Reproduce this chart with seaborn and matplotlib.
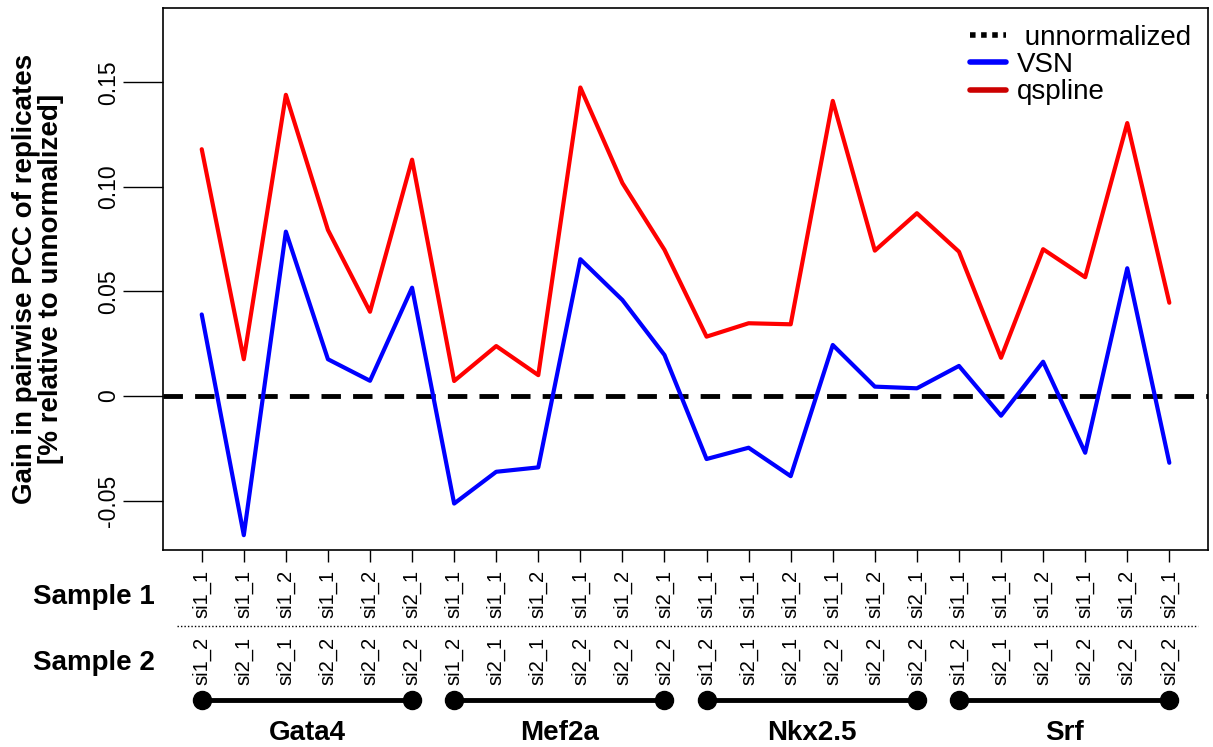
import numpy as np
import pandas as pd
import matplotlib
matplotlib.use("Agg")
import matplotlib.pyplot as plt
from matplotlib.lines import Line2D
import seaborn as sns

# --- data ---
groups = ["Gata4", "Mef2a", "Nkx2.5", "Srf"]
sample1 = ["si1_1", "si1_1", "si1_2", "si1_1", "si1_2", "si2_1"] * 4
sample2 = ["si1_2", "si2_1", "si2_1", "si2_2", "si2_2", "si2_2"] * 4
vsn = [0.039, -0.0665, 0.0786, 0.0176, 0.0073, 0.0518,
       -0.0514, -0.0362, -0.0341, 0.0654, 0.0459, 0.0196,
       -0.0301, -0.0247, -0.0383, 0.0244, 0.0045, 0.0037,
       0.0144, -0.0094, 0.0164, -0.0271, 0.0611, -0.0319]
qspline = [0.118, 0.0176, 0.144, 0.0794, 0.0403, 0.113,
           0.0072, 0.0239, 0.010, 0.1475, 0.1018, 0.0699,
           0.0284, 0.0348, 0.0343, 0.1411, 0.0695, 0.0874,
           0.069, 0.0183, 0.0702, 0.0568, 0.1305, 0.0446]
yticks = [-0.05, 0, 0.05, 0.10, 0.15]
ytick_labels = ["-0.05", "0", "0.05", "0.10", "0.15"]

pos = np.arange(1, len(vsn) + 1)
df = pd.DataFrame({
    "pos": np.concatenate([pos, pos]),
    "gain": vsn + qspline,
    "method": ["VSN"] * len(vsn) + ["qspline"] * len(qspline),
})

sns.set_style("white")
plt.rcParams["font.family"] = ["Liberation Sans", "DejaVu Sans"]
plt.rcParams.update({"text.color": "black", "axes.labelcolor": "black",
                     "xtick.color": "black", "ytick.color": "black"})

fig = plt.figure(figsize=(12.13, 7.47), dpi=100)
ax = fig.add_axes([0.1344, 0.2637, 0.8615, 0.7256])

# zero reference line
ax.axhline(0, color="black", lw=3.5, dashes=(4, 2.5), zorder=1)
sns.lineplot(data=df, x="pos", y="gain", hue="method",
             palette={"VSN": "#0000ff", "qspline": "#ff0000"},
             linewidth=3, legend=False, ax=ax, zorder=2)

ax.set_xlim(0.08, 24.92)
ax.set_ylim(-0.0736, 0.1855)
for s in ax.spines.values():
    s.set_color("black")
    s.set_linewidth(1.2)

# y axis
ax.set_yticks(yticks)
ax.set_yticklabels(ytick_labels, rotation=90, va="center", fontsize=16.5)
ax.tick_params(axis="y", direction="out", length=29, width=1, pad=2, left=True)
ax.set_ylabel("Gain in pairwise PCC of replicates\n[% relative to unnormalized]",
              fontsize=20, fontweight="bold", linespacing=1.0)
ax.yaxis.set_label_coords(-0.095, 0.5)

# x axis: sample 1 labels as tick labels
ax.set_xticks(pos)
ax.set_xticklabels(sample1, rotation=90, fontsize=14.5)
ax.tick_params(axis="x", direction="out", length=8.6, width=1, pad=5.8, bottom=True)
ax.set_xlabel("")

trans = ax.get_xaxis_transform()
for p, lab in zip(pos, sample2):
    ax.text(p, -0.1605, lab, rotation=90, ha="center", va="top",
            fontsize=14.5, transform=trans)

ax.plot([0.41, 24.69], [-0.140, -0.140], ls=(0, (1, 1.5)), lw=1, color="black",
        transform=trans, clip_on=False)

ax.text(-0.0077, -0.0867, "Sample 1", ha="right", va="center", fontsize=20,
        fontweight="bold", transform=ax.transAxes)
ax.text(-0.0077, -0.2085, "Sample 2", ha="right", va="center", fontsize=20,
        fontweight="bold", transform=ax.transAxes)

# group brackets
for i, g in enumerate(groups):
    start, end = pos[i * 6], pos[i * 6 + 5]
    ax.plot([start, end], [-0.2768, -0.2768], color="black", lw=3.5,
            marker="o", ms=13, transform=trans, clip_on=False)
    ax.text((start + end) / 2, -0.3376, g, ha="center", va="center",
            fontsize=20, fontweight="bold", transform=trans)

handles = [
    Line2D([], [], color="black", lw=4, ls=(0, (1, 1))),
    Line2D([], [], color="#0000ff", lw=4),
    Line2D([], [], color="#cc0000", lw=4),
]
ax.legend(handles, [" unnormalized", "VSN", "qspline"], loc="upper right",
          frameon=False, fontsize=20, handlelength=1.3, handletextpad=0.4,
          labelspacing=0.05, borderaxespad=0.2)

fig.savefig("out.png", dpi=100)
